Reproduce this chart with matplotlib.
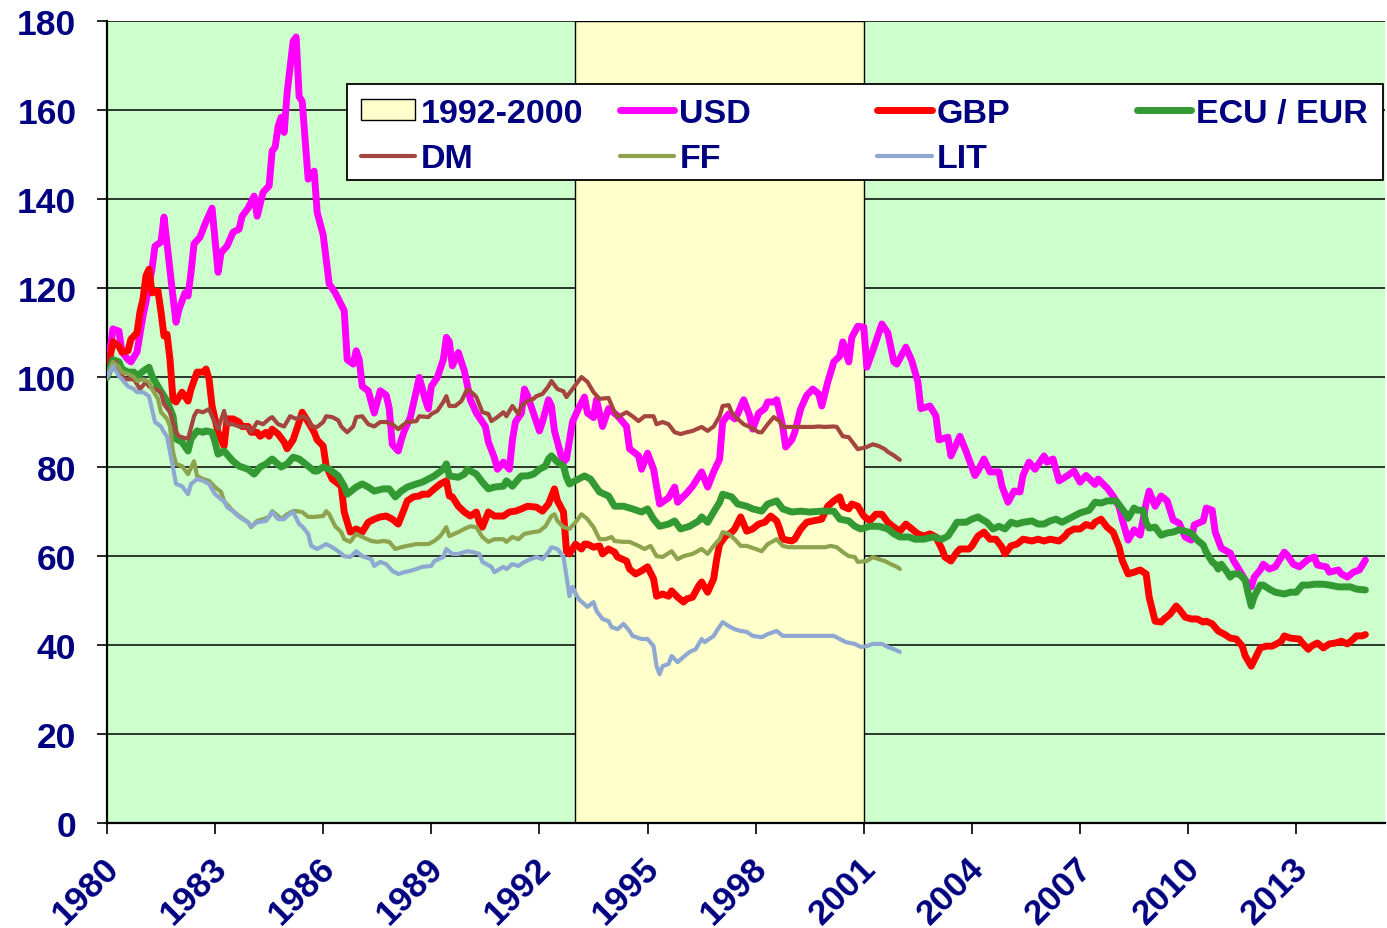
import numpy as np
import matplotlib
matplotlib.use('Agg')
import matplotlib.pyplot as plt
from matplotlib.patches import Patch, Rectangle
from matplotlib.transforms import ScaledTranslation

plt.rcParams['font.family'] = ['Liberation Sans', 'DejaVu Sans']
plt.rcParams['font.weight'] = 'bold'

NAVY = '#000080'

# (month since Jan 1980, index value)
usd = [(0, 101), (2, 110.9), (4, 110.4), (5, 105.7), (7, 104), (8, 103.5), (10, 105.7), (12, 113.8), (13, 117),
       (15, 124.3), (16, 129.5), (18, 130.4), (19, 136), (22, 118), (23, 112.4), (24, 115.3), (26, 119), (27, 118.3),
       (28, 123.6), (29, 130), (31, 131.5), (33, 135), (35, 138), (37, 123.6), (38, 128), (40, 129.5), (42, 132.6),
       (44, 133.3), (45, 136.2), (47, 138), (49, 140.7), (50, 136.2), (52, 141.6), (54, 143), (55, 150.8),
       (56, 151.7), (57, 156.4), (58, 158.4), (59, 155), (60, 164), (62, 175.5), (63, 176.4), (64, 163), (65, 162),
       (67, 144.5), (69, 146.3), (70, 137), (72, 132), (74, 121), (76, 119), (79, 115), (80, 104), (82, 103),
       (83, 106), (84, 104), (85, 98), (87, 97), (89, 92), (91, 97), (93, 96), (94, 93), (95, 85), (97, 83.5),
       (98, 86), (99, 88), (101, 91), (103, 97), (104, 100), (106, 95), (107, 93), (108, 98), (110, 100), (112, 104),
       (113, 109), (114, 108), (115, 102.6), (117, 105.6), (118, 103.5), (119, 101.5), (121, 95), (123, 92),
       (125, 90), (126, 89), (127, 85.5), (129, 82), (130, 79.4), (132, 81), (134, 79.4), (135, 86), (136, 90),
       (138, 92), (139, 97.4), (140, 96), (142, 92), (144, 88), (145, 90), (147, 95), (148, 93.6), (149, 88),
       (151, 83), (152, 81), (153, 81.7), (155, 90), (157, 93), (159, 95.6), (160, 92), (162, 91), (163, 95),
       (165, 89), (167, 93), (168, 92.5), (170, 91.4), (173, 89), (174, 84), (177, 82.4), (178, 79.4), (180, 83),
       (182, 79.4), (184, 71.6), (187, 73), (189, 75.4), (190, 72), (193, 74), (195, 75.6), (198, 78.8), (200, 75.4),
       (202, 78.8), (204, 81.7), (205, 90), (207, 91.8), (209, 90.7), (210, 91.8), (212, 95), (214, 91.4),
       (215, 88.4), (217, 92), (219, 93), (220, 94.5), (222, 94.5), (223, 95), (225, 89), (226, 84.4), (228, 86),
       (229, 87.7), (231, 93), (233, 96), (235, 97.4), (237, 96.3), (238, 93.6), (240, 99), (242, 103.5),
       (244, 104.8), (245, 108), (247, 103.5), (248, 109), (250, 111.5), (252, 111.3), (253, 102.3), (255, 106),
       (258, 112), (260, 110), (262, 103.5), (263, 103), (266, 106.8), (268, 103.7), (270, 99), (271, 93),
       (274, 93.6), (276, 91.4), (277, 86), (280, 86.6), (281, 82.4), (284, 86.8), (286, 83.5), (289, 78), (290, 79),
       (292, 81.7), (294, 78.8), (297, 78.8), (298, 75.6), (300, 72), (302, 74.5), (304, 74.3), (305, 78), (307, 81),
       (309, 79.4), (312, 82.4), (313, 81), (315, 81.7), (317, 76.8), (319, 77.6), (322, 79), (324, 76.5), (326, 78),
       (329, 76), (330, 77.2), (333, 75.2), (335, 73.4), (337, 71), (338, 68.2), (340, 63.5), (342, 65.8),
       (344, 64.6), (346, 71.8), (347, 74.5), (349, 71.1), (351, 73.4), (353, 72.3), (355, 68), (357, 67.3),
       (359, 64.2), (361, 63.5), (362, 66.9), (365, 67.8), (366, 70.7), (368, 70.2), (369, 65.3), (371, 61.7),
       (374, 60.6), (375, 59), (377, 56.8), (379, 54.5), (381, 53), (382, 55.2), (384, 56.8), (385, 58.1), (387, 57),
       (389, 57.5), (392, 60.8), (393, 60.1), (395, 58.1), (397, 57.5), (400, 59.2), (402, 59.7), (403, 57.9),
       (406, 57.5), (407, 56.3), (410, 56.8), (411, 55.9), (413, 55.2), (415, 56.3), (417, 56.8), (418, 57.9),
       (419, 59)]

gbp = [(0, 101), (2, 108), (4, 107), (5, 105.7), (7, 106), (8, 108.6), (10, 110), (11, 114.7), (12, 117.6),
       (13, 122.8), (14, 124.3), (15, 119), (17, 119.4), (18, 114.7), (19, 109.3), (20, 109.7), (21, 104), (22, 95),
       (23, 94.5), (25, 96.7), (27, 94.7), (28, 97.4), (30, 101.2), (32, 101.2), (33, 101.9), (34, 99.6), (35, 93.6),
       (37, 87.7), (39, 84.6), (40, 90.7), (42, 90.7), (44, 90), (45, 89), (47, 89), (48, 87.7), (50, 87.7),
       (51, 86.8), (53, 87.7), (54, 86.8), (55, 88.4), (57, 87.3), (59, 85.5), (60, 84), (62, 86), (64, 90),
       (65, 92.2), (67, 90), (69, 87.7), (70, 86), (72, 84.6), (73, 80.1), (75, 77.2), (78, 75.6), (79, 69.8),
       (81, 65.3), (83, 66), (85, 65.3), (87, 67.5), (89, 68.2), (91, 68.7), (93, 68.9), (95, 68.2), (97, 67.1),
       (99, 70.5), (100, 72.3), (102, 73.2), (104, 73.4), (105, 73.8), (107, 73.8), (109, 75), (111, 76.1),
       (113, 76.8), (114, 73.4), (115, 73.2), (117, 71.1), (119, 69.8), (121, 68.9), (123, 69.8), (124, 67.5),
       (125, 66.4), (127, 69.8), (129, 68.9), (132, 68.9), (134, 69.8), (136, 70), (138, 70.5), (140, 71.1),
       (143, 70.9), (145, 70), (147, 71.6), (149, 75), (150, 72.3), (152, 69.8), (153, 61), (154, 60.4), (156, 62.6),
       (158, 61.5), (159, 62.6), (160, 62.6), (162, 61.9), (164, 62.2), (165, 60.4), (167, 61.5), (169, 60.8),
       (170, 59.7), (173, 58.8), (174, 57), (176, 55.9), (178, 56.6), (180, 57.5), (182, 54.8), (183, 50.9),
       (185, 51.4), (187, 50.9), (188, 52.1), (190, 50.7), (192, 49.6), (193, 50.3), (195, 50.7), (197, 53.2),
       (198, 54.1), (200, 51.8), (202, 54.8), (203, 59.2), (204, 62.6), (206, 64.4), (208, 65.3), (209, 66),
       (211, 68.7), (213, 65.5), (215, 66), (217, 67.1), (219, 67.5), (221, 68.9), (223, 67.8), (224, 66),
       (225, 63.7), (228, 63.3), (229, 63.7), (231, 66), (233, 67.5), (235, 67.8), (238, 68.2), (240, 71.1),
       (242, 72.3), (244, 73.2), (245, 71.1), (247, 70.5), (248, 71.6), (250, 71.1), (252, 68.9), (254, 67.8),
       (256, 69.3), (258, 69.3), (260, 67.5), (262, 66.4), (264, 65.5), (266, 67.1), (268, 66), (270, 64.9),
       (272, 64.4), (274, 64.9), (276, 64.2), (278, 61.5), (279, 59.7), (281, 58.8), (283, 60.8), (284, 61.5),
       (287, 61.5), (288, 62.2), (290, 64.4), (292, 65.3), (294, 63.7), (296, 63.7), (298, 61.9), (299, 60.4),
       (301, 62.2), (303, 62.6), (305, 63.7), (308, 63.3), (310, 63.7), (312, 63.3), (314, 63.7), (317, 63.3),
       (319, 64.4), (320, 65.3), (322, 66), (324, 66), (326, 67), (328, 66.6), (329, 67.5), (331, 68.2), (333, 66.4),
       (335, 65.3), (337, 61.9), (338, 59), (340, 55.9), (342, 56.3), (344, 56.8), (346, 55.9), (347, 50.7),
       (349, 45.3), (351, 45.1), (352, 45.8), (354, 46.9), (356, 48.7), (357, 48), (359, 46.2), (361, 45.8),
       (363, 45.8), (365, 45.1), (366, 45.3), (368, 44.7), (370, 43.1), (372, 42.4), (374, 41.5), (376, 41.3),
       (378, 39.7), (379, 37.5), (381, 35.2), (383, 37.9), (384, 39.3), (386, 39.7), (388, 39.7), (391, 40.8),
       (392, 42), (394, 41.5), (397, 41.3), (398, 40.4), (400, 39), (401, 39.7), (403, 40.4), (405, 39.3),
       (407, 40.2), (409, 40.4), (411, 40.8), (413, 40.2), (415, 41.3), (416, 42), (418, 42), (419, 42.3)]

eur = [(0, 100), (2, 104), (4, 103.5), (5, 101.9), (7, 101.2), (9, 101.2), (10, 100.3), (12, 101.4), (14, 102.3),
       (15, 100.3), (17, 98), (19, 95.8), (20, 94.7), (22, 91.3), (23, 86.2), (25, 85.5), (27, 83.5), (28, 86.2),
       (30, 88), (32, 87.7), (33, 88), (35, 87.7), (36, 85.5), (37, 82.8), (39, 83.5), (42, 81.2), (44, 80.1),
       (47, 79.4), (49, 78.3), (51, 79.9), (53, 80.6), (55, 81.7), (58, 79.9), (60, 80.6), (62, 82.1), (64, 81.7),
       (67, 80.1), (69, 79), (70, 79), (72, 79.9), (74, 79.4), (77, 77.9), (79, 75.6), (80, 73.8), (83, 75.4),
       (85, 76.1), (87, 75.4), (89, 74.5), (92, 75), (94, 75), (96, 73.2), (98, 74.5), (100, 75.4), (103, 76.1),
       (105, 76.5), (107, 77.2), (109, 77.9), (112, 79.4), (113, 80.6), (114, 77.9), (117, 77.6), (119, 78.3),
       (120, 79.4), (123, 78.3), (125, 76.5), (127, 75), (129, 75.4), (132, 75.6), (133, 76.8), (135, 75.6),
       (137, 77.2), (138, 77.9), (140, 77.9), (142, 78.3), (144, 79.4), (146, 80.1), (147, 81.7), (148, 82.4),
       (150, 81), (152, 80.1), (153, 77.6), (154, 76.1), (157, 77.2), (159, 77.9), (161, 77.2), (164, 74.3),
       (167, 73.4), (169, 71.1), (172, 71.1), (175, 70.5), (178, 69.8), (180, 70.5), (182, 68.2), (184, 66.6),
       (187, 67.1), (189, 67.8), (191, 66), (194, 66.6), (197, 67.8), (198, 68.7), (200, 67.5), (202, 69.8),
       (204, 72), (205, 73.8), (208, 73.2), (210, 71.6), (213, 71.1), (215, 70.5), (218, 70), (220, 71.6),
       (223, 72.3), (225, 70.5), (228, 69.8), (231, 70), (234, 69.8), (238, 70), (240, 70), (242, 70), (244, 68.2),
       (247, 67.8), (249, 66.6), (251, 66), (254, 66.6), (257, 66.6), (260, 66), (262, 64.9), (264, 64.2),
       (267, 64.2), (269, 63.7), (272, 63.7), (275, 64.2), (278, 63.7), (280, 64.4), (282, 66.4), (283, 67.5),
       (286, 67.5), (288, 68.2), (290, 68.7), (293, 67.5), (295, 66), (297, 66.6), (299, 66), (301, 67.5),
       (303, 67.1), (305, 67.5), (308, 67.8), (310, 67.1), (312, 67.1), (314, 67.8), (316, 68.2), (318, 67.5),
       (320, 68.2), (322, 68.9), (324, 69.6), (327, 70.2), (329, 72), (331, 71.8), (333, 72.3), (336, 72.3),
       (337, 71.4), (339, 69.6), (340, 68.4), (342, 70.7), (343, 70.2), (345, 70.2), (346, 67.3), (347, 66.2),
       (349, 66.4), (351, 64.6), (353, 65.1), (355, 65.3), (357, 65.8), (360, 65.3), (361, 65.1), (363, 63.5),
       (365, 62.4), (366, 60.8), (368, 58.6), (369, 58.1), (370, 57), (371, 58.1), (373, 56.3), (374, 55.2),
       (375, 55.9), (377, 55.9), (379, 54.5), (380, 51.4), (381, 48.7), (382, 50.9), (384, 53.4), (385, 53.4),
       (387, 52.5), (389, 51.8), (392, 51.4), (394, 51.8), (396, 51.8), (398, 53.4), (400, 53.4), (402, 53.6),
       (405, 53.6), (407, 53.4), (410, 53), (412, 53), (414, 53), (416, 52.5), (419, 52.3)]

dm = [(0, 100), (3, 103.5), (4, 101.2), (6, 99.6), (8, 99.6), (9, 99.6), (11, 97.4), (13, 99), (14, 98), (16, 97.4),
      (18, 96.7), (19, 94), (21, 92.2), (23, 87.7), (24, 86.8), (27, 86.2), (29, 91.3), (30, 92.5), (32, 92.2),
      (34, 92.9), (35, 91.3), (37, 88.4), (39, 92.5), (40, 89.5), (42, 89.5), (44, 89), (47, 88.9), (48, 87.7),
      (50, 90), (52, 89.5), (54, 90.7), (55, 91.1), (57, 89.5), (59, 89), (61, 91.3), (63, 90.7), (65, 91.3),
      (67, 90.7), (68, 89), (70, 88.9), (72, 90), (73, 91.3), (75, 91.1), (77, 90.4), (78, 89), (80, 87.7), (82, 89),
      (83, 91.1), (85, 91.3), (87, 89.5), (89, 89), (91, 90), (93, 90), (95, 89.5), (97, 88.4), (98, 89), (100, 90),
      (103, 90.2), (104, 91.3), (107, 91.1), (108, 91.8), (110, 92.5), (112, 94.5), (113, 95.8), (114, 93.6),
      (116, 93.6), (118, 94.7), (120, 97.4), (122, 96.3), (123, 95.6), (125, 92.2), (127, 91.8), (128, 90.2),
      (130, 91.1), (132, 92.2), (133, 91.3), (135, 93.6), (137, 91.8), (138, 93.6), (140, 94.7), (142, 95.2),
      (143, 95.8), (145, 96.3), (147, 98), (148, 99.2), (150, 97.4), (152, 96.9), (153, 95.6), (155, 97.4),
      (158, 100.1), (160, 99), (162, 96.7), (164, 95.2), (167, 95.4), (169, 92.2), (170, 91.1), (173, 92.2),
      (175, 91.3), (177, 90.2), (179, 91.3), (182, 91.3), (183, 89.5), (185, 90), (187, 89.5), (189, 87.7),
      (191, 87.3), (193, 87.7), (195, 88), (198, 88.9), (200, 88), (202, 89), (204, 91.3), (205, 93.6), (207, 93.8),
      (208, 92.2), (210, 90.7), (212, 89.5), (214, 88.9), (217, 87.7), (218, 87.7), (220, 89.5), (222, 91.1),
      (224, 90.2), (225, 88.9), (228, 88.9), (230, 88.9), (232, 88.9), (235, 88.9), (237, 89), (239, 88.9),
      (242, 89), (243, 88.9), (245, 86.8), (247, 86.6), (248, 85.7), (250, 83.9), (253, 84.4), (255, 85),
      (257, 84.6), (259, 83.9), (260, 83.3), (262, 82.5), (264, 81.5)]

ff = [(0, 100), (2, 103.5), (4, 102.3), (5, 101.2), (7, 100.8), (9, 100.1), (10, 99.2), (12, 99.6), (14, 99),
      (15, 97.4), (17, 95.2), (18, 92.2), (20, 90.7), (21, 89), (22, 83.3), (23, 80.6), (25, 80.1), (27, 78.3),
      (29, 81.2), (30, 77.9), (32, 77.2), (34, 76.8), (36, 75.4), (38, 74.3), (39, 72.2), (42, 70), (44, 68.9),
      (47, 67.5), (48, 66.4), (50, 67.8), (52, 68.2), (54, 68.7), (55, 70), (57, 68.9), (58, 68.2), (60, 69.3),
      (62, 70), (63, 70), (65, 69.8), (67, 68.7), (69, 68.7), (72, 68.9), (73, 70), (74, 69.3), (76, 66.6),
      (78, 65.3), (79, 63.7), (81, 63.1), (83, 64.9), (85, 64.2), (88, 63.3), (90, 63.1), (92, 63.3), (94, 63.1),
      (96, 61.5), (98, 61.9), (100, 62.2), (103, 62.6), (105, 62.6), (107, 62.6), (109, 63.3), (111, 64.4),
      (113, 66.4), (114, 64.4), (117, 65.3), (119, 66), (121, 66.6), (123, 66.4), (125, 64.2), (127, 63.1),
      (129, 63.7), (132, 63.7), (133, 63.1), (135, 64.2), (137, 63.7), (139, 64.9), (142, 65.3), (144, 65.5),
      (146, 66.6), (148, 68.9), (149, 69.3), (150, 67.8), (152, 66.4), (154, 66), (156, 67.5), (158, 69.3),
      (160, 68.2), (162, 66.4), (164, 63.7), (166, 63.7), (168, 64.2), (169, 63.3), (172, 63.1), (174, 63.1),
      (177, 62.2), (179, 61.5), (181, 62.2), (183, 59.9), (185, 59.7), (188, 61), (190, 59.2), (192, 59.9),
      (195, 60.4), (198, 61.5), (200, 60.4), (202, 62.2), (204, 63.7), (205, 65.3), (207, 64.9), (209, 63.7),
      (211, 62.2), (213, 62.2), (216, 61.5), (218, 61), (220, 62.6), (223, 63.7), (225, 62.2), (227, 61.9),
      (230, 61.9), (233, 61.9), (236, 61.9), (239, 61.9), (241, 62.2), (243, 61.9), (245, 60.8), (247, 59.9),
      (249, 59.7), (250, 58.6), (253, 58.8), (255, 59.7), (257, 59.2), (259, 58.8), (261, 58.1), (263, 57.5),
      (264, 57)]

lit = [(0, 100), (2, 102.6), (4, 100.3), (5, 99.6), (7, 98), (9, 97.4), (10, 96.7), (12, 96.7), (14, 95.8),
       (15, 92.9), (16, 90), (18, 89), (19, 87.7), (20, 86.8), (21, 83.3), (23, 76.1), (25, 75.6), (27, 73.8),
       (28, 76.1), (30, 77.2), (32, 76.8), (34, 76.1), (36, 73.8), (38, 72.7), (39, 72.3), (40, 70.9), (42, 70),
       (44, 68.7), (47, 67.5), (48, 66.6), (50, 67.5), (53, 67.8), (55, 69.8), (57, 68.2), (59, 68.2), (60, 68.9),
       (62, 69.8), (64, 67.1), (65, 66.6), (67, 64.9), (68, 62.2), (70, 61.5), (73, 62.6), (75, 61.9), (77, 61),
       (79, 59.9), (81, 59.7), (83, 61), (85, 59.9), (88, 59.2), (89, 57.7), (91, 58.6), (93, 58.1), (95, 56.6),
       (97, 55.9), (99, 56.3), (101, 56.6), (103, 57), (105, 57.5), (108, 57.7), (109, 58.8), (112, 59.7),
       (113, 61.5), (115, 60.4), (117, 60.4), (120, 61), (122, 60.8), (124, 60.4), (125, 58.6), (128, 57.5),
       (129, 56.3), (132, 57.5), (133, 57), (135, 58.1), (137, 57.7), (139, 58.6), (141, 59.2), (143, 59.7),
       (145, 59.2), (147, 60.8), (148, 61.9), (150, 61.5), (152, 59.7), (153, 55.4), (154, 50.9), (155, 53),
       (157, 50.3), (160, 48.5), (162, 49.6), (163, 47.6), (165, 45.8), (167, 45.3), (168, 44), (170, 43.5),
       (172, 44.7), (174, 43.1), (175, 42), (178, 41.3), (180, 41.3), (182, 39.7), (183, 35.2), (184, 33.4),
       (185, 35.2), (187, 35.7), (188, 37.5), (190, 36.1), (192, 37.3), (194, 38.4), (196, 39), (198, 41.3),
       (199, 40.6), (202, 42), (203, 43.1), (205, 45.1), (207, 44.2), (209, 43.5), (211, 43.1), (213, 42.9),
       (215, 42), (218, 41.7), (220, 42.4), (223, 43.1), (225, 42), (227, 42), (230, 42), (233, 42), (236, 42),
       (239, 42), (242, 42), (244, 41.3), (246, 40.6), (249, 40.2), (251, 39.5), (253, 39.7), (255, 40.2),
       (258, 40.2), (260, 39.5), (262, 39), (264, 38.4)]

tick_years = list(range(1980, 2014, 3))
span_years = (1993, 2001)
span_label = '1992-2000'

series = [
    ('USD', usd, '#FF00FF', 5.0),
    ('GBP', gbp, '#FF0000', 5.0),
    ('ECU / EUR', eur, '#339933', 5.0),
    ('DM', dm, '#A5453F', 3.0),
    ('FF', ff, '#8DA34E', 3.0),
    ('LIT', lit, '#8FA8D2', 3.0),
]


def to_xy(pairs):
    m, v = np.array(pairs, dtype=float).T
    return 1980 + m / 12.0, v


fig = plt.figure(figsize=(13.87, 9.29), dpi=100)
ax = fig.add_axes([0.0771, 0.1130, 0.9214, 0.8633])
ax.set_facecolor('#CCFFCC')

ax.axvspan(*span_years, facecolor='#FFFFCC', edgecolor='black', lw=1.0, zorder=1)

lines = {}
for i, (name, data, color, lw) in enumerate(series):
    x, y = to_xy(data)
    lines[name], = ax.plot(x, y, color=color, lw=lw, solid_joinstyle='round',
                           solid_capstyle='round', label=name, zorder=3 + i)

ax.set_xlim(1980, 1980 + 425.5 / 12)
ax.set_ylim(0, 180)
ax.set_yticks(range(0, 181, 20))
ax.set_xticks(tick_years)
ax.set_xticklabels([str(t) for t in tick_years], rotation=45, ha='right',
                   va='top', rotation_mode='anchor')

ax.yaxis.grid(True, color='black', lw=1.1)
ax.set_axisbelow(True)

for s in ['top', 'right']:
    ax.spines[s].set_visible(False)
for s in ['left', 'bottom']:
    ax.spines[s].set_linewidth(1.6)
    ax.spines[s].set_color('black')

ax.tick_params(axis='y', direction='out', length=7, width=1.2, pad=15,
               labelsize=25.5, labelcolor=NAVY)
ax.tick_params(axis='x', direction='out', length=8, width=1.2, pad=12,
               labelsize=25.5, labelcolor=NAVY)
for lab in ax.get_xticklabels():
    lab.set_transform(lab.get_transform() + ScaledTranslation(-0.05, 0, fig.dpi_scale_trans))

# legend box drawn once, entries placed in two frameless legends so the
# columns sit where the original puts them
ax.add_patch(Rectangle((0.1878, 0.8017), 0.8106, 0.1197, transform=ax.transAxes,
                       facecolor='white', edgecolor='black', lw=1.3, zorder=19))

leg_kw = dict(prop={'weight': 'bold', 'size': 24.5}, labelcolor=NAVY,
              handlelength=1.6, handleheight=0.6, handletextpad=0.15,
              labelspacing=0.42, borderpad=0, borderaxespad=0, frameon=False)

span_handle = Patch(facecolor='#FFFFCC', edgecolor='black', lw=1.0)
leg1 = ax.legend([span_handle, lines['DM']], [span_label, 'DM'], ncol=1,
                 loc='upper left', bbox_to_anchor=(0.1987, 0.9045), **leg_kw)
leg1.set_zorder(20)
ax.add_artist(leg1)

# column-major order: USD/FF, GBP/LIT, ECU
leg2 = ax.legend([lines['USD'], lines['FF'], lines['GBP'], lines['LIT'], lines['ECU / EUR']],
                 ['USD', 'FF', 'GBP', 'LIT', 'ECU / EUR'], ncol=3, mode='expand',
                 loc='upper left', bbox_to_anchor=(0.4014, 0.80, 0.5853, 0.1045), **leg_kw)
leg2.set_zorder(20)

fig.savefig('out.png', dpi=100)
